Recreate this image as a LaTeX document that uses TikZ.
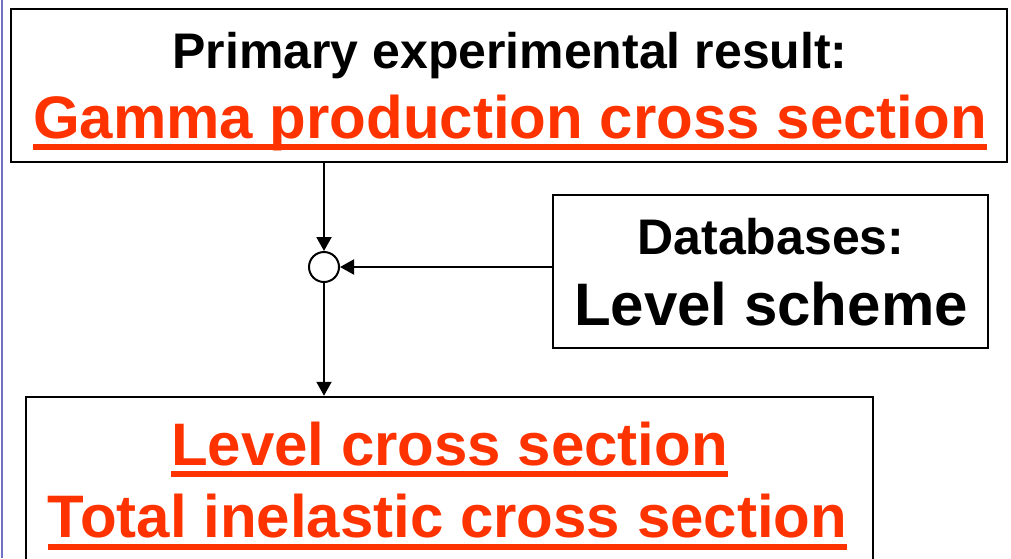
\documentclass[tikz,border=0pt]{standalone}
\usepackage{fontspec}
\setmainfont{Liberation Sans}
\usetikzlibrary{arrows.meta}
\definecolor{hired}{RGB}{255,51,0}
\definecolor{sideblue}{RGB}{112,112,200}
\tikzset{
  box/.style={draw=black, line width=2.5pt, rectangle, inner sep=0pt, fill=white},
  big/.style={font=\fontsize{60pt}{72pt}\selectfont\bfseries, inner sep=0pt, anchor=base},
  mid/.style={font=\fontsize{50pt}{60pt}\selectfont\bfseries, inner sep=0pt, anchor=base},
  redtxt/.style={text=hired},
  uline/.style={draw=hired, line width=6pt},
  conn/.style={draw=black, line width=2pt, -{Triangle[length=14pt,width=15pt]}},
  junction/.style={circle, draw=black, line width=2pt, fill=white, minimum size=30pt, inner sep=0pt}
}
\begin{document}
\begin{tikzpicture}[x=1pt, y=-1pt]
\useasboundingbox (0,0) rectangle (1011,558);
\fill[white] (0,0) rectangle (1011,558);
\draw[sideblue, line width=2pt] (2,0) -- (2,558);
% boxes
\node[box, minimum width=996pt, minimum height=153pt] (top) at (509,85.5) {};
\node[box, minimum width=435pt, minimum height=153pt] (db) at (770.5,271.5) {};
\node[box, minimum width=847pt, minimum height=200pt] (bot) at (449.5,497) {};
% texts
\node[mid] (t1) at (510,68) {Primary experimental result:};
\node[big, redtxt] (t2) at (510,138) {Gamma production cross section};
\path[uline] ([yshift=-9pt]t2.base west) -- ([yshift=-9pt]t2.base east);
\node[mid] (d1) at (771,254) {Databases:};
\node[big] (d2) at (771,325) {Level scheme};
\node[big, redtxt] (b1) at (449.5,465) {Level cross section};
\path[uline] ([yshift=-9pt]b1.base west) -- ([yshift=-9pt]b1.base east);
\node[big, redtxt] (b2) at (447.5,537) {Total inelastic cross section};
\path[uline] ([yshift=-10pt]b2.base west) -- ([yshift=-10pt]b2.base east);
% junction and connectors
\node[junction] (j) at (324,267) {};
\draw[conn] (top.south -| j) -- (j.north);
\draw[conn] (db.west |- j) -- (j.east);
\draw[conn] (j.south) -- (bot.north -| j);
\end{tikzpicture}
\end{document}
